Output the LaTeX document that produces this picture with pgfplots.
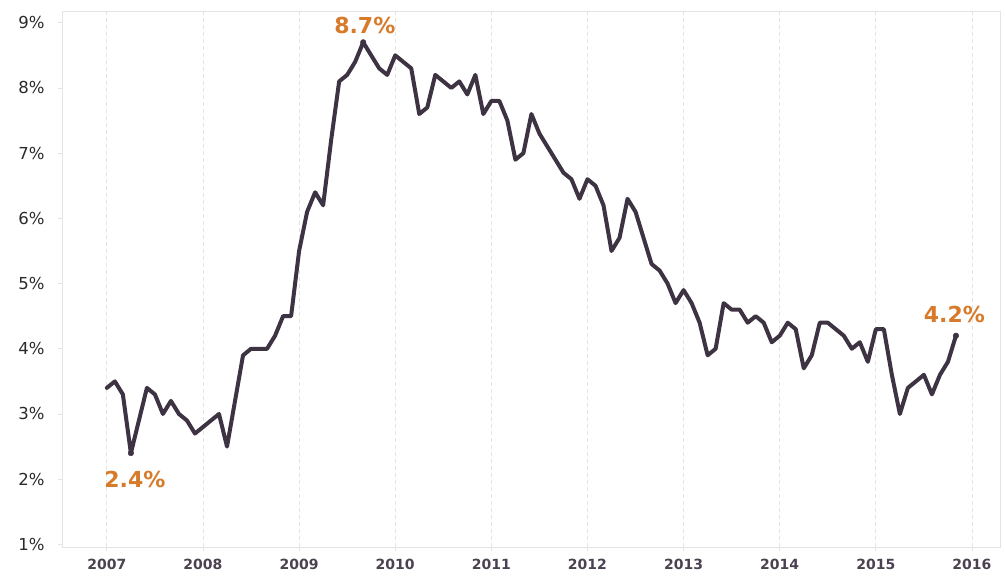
\documentclass[border=0pt]{standalone}
\usepackage{pgfplots}
\pgfplotsset{compat=1.18}
\usepackage{pgfplotstable}
\usepackage{fontspec}
\setmainfont{DejaVu Sans}
\definecolor{linec}{HTML}{3E3342}
\definecolor{orangec}{HTML}{D77B2B}
\definecolor{gridc}{HTML}{E4E4E4}
\definecolor{xlab}{HTML}{4B4150}
\definecolor{ylab}{HTML}{2A2A2A}
\pgfplotstableread{
m v
0 3.4
1 3.5
2 3.3
3 2.4
4 2.9
5 3.4
6 3.3
7 3.0
8 3.2
9 3.0
10 2.9
11 2.7
12 2.8
13 2.9
14 3.0
15 2.5
16 3.2
17 3.9
18 4.0
19 4.0
20 4.0
21 4.2
22 4.5
23 4.5
24 5.5
25 6.1
26 6.4
27 6.2
28 7.2
29 8.1
30 8.2
31 8.4
32 8.7
33 8.5
34 8.3
35 8.2
36 8.5
37 8.4
38 8.3
39 7.6
40 7.7
41 8.2
42 8.1
43 8.0
44 8.1
45 7.9
46 8.2
47 7.6
48 7.8
49 7.8
50 7.5
51 6.9
52 7.0
53 7.6
54 7.3
55 7.1
56 6.9
57 6.7
58 6.6
59 6.3
60 6.6
61 6.5
62 6.2
63 5.5
64 5.7
65 6.3
66 6.1
67 5.7
68 5.3
69 5.2
70 5.0
71 4.7
72 4.9
73 4.7
74 4.4
75 3.9
76 4.0
77 4.7
78 4.6
79 4.6
80 4.4
81 4.5
82 4.4
83 4.1
84 4.2
85 4.4
86 4.3
87 3.7
88 3.9
89 4.4
90 4.4
91 4.3
92 4.2
93 4.0
94 4.1
95 3.8
96 4.3
97 4.3
98 3.6
99 3.0
100 3.4
101 3.5
102 3.6
103 3.3
104 3.6
105 3.8
106 4.2
}\datatable
\begin{document}
\begin{tikzpicture}
\begin{axis}[
  scale only axis,
  width=938pt, height=536pt,
  xmin=-5.6, xmax=111.5,
  ymin=0.96, ymax=9.18,
  axis line style={gridc, line width=0.8pt},
  xtick={0,12,24,36,48,60,72,84,96,108},
  xticklabels={2007,2008,2009,2010,2011,2012,2013,2014,2015,2016},
  ytick={1,2,3,4,5,6,7,8,9},
  yticklabels={1\%,2\%,3\%,4\%,5\%,6\%,7\%,8\%,9\%},
  tick align=outside,
  major tick length=4pt,
  tick style={gridc, line width=0.8pt},
  xtick pos=bottom, ytick pos=left,
  xmajorgrids,
  major x grid style={gridc, dash pattern=on 4pt off 3pt, line width=0.9pt},
  xticklabel style={font=\fontsize{14}{16}\selectfont\bfseries, text=xlab, yshift=-5pt},
  yticklabel style={font=\fontsize{16.5}{18}\selectfont, text=ylab, xshift=-10pt},
  clip=false,
]
\addplot[linec, line width=4pt, line join=round, line cap=round] table[x=m, y=v] {\datatable};
\addplot[only marks, mark=*, mark size=2.8pt, linec] coordinates {(3,2.4) (32,8.7) (106,4.2)};
\node[text=orangec, font=\fontsize{22}{24}\selectfont\bfseries] at (axis cs:32.2,8.95) {8.7\%};
\node[text=orangec, font=\fontsize{22}{24}\selectfont\bfseries] at (axis cs:3.5,1.99) {2.4\%};
\node[text=orangec, font=\fontsize{22}{24}\selectfont\bfseries] at (axis cs:105.8,4.52) {4.2\%};
\end{axis}
\pgfresetboundingbox
\path[use as bounding box] ([shift={(-62pt,-34pt)}]current axis.south west) rectangle ([shift={(5pt,11pt)}]current axis.north east);
\end{tikzpicture}
\end{document}
